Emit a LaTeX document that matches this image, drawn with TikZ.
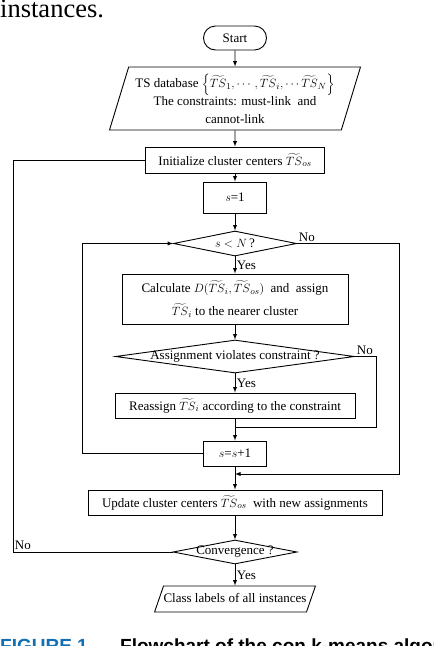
\documentclass[tikz,border=0pt]{standalone}
\usepackage{amsmath}
\usepackage{fontspec}
\setmainfont{Liberation Serif}
\newfontfamily\capfont{Liberation Sans}
\usepackage{tikz}
\usetikzlibrary{shapes,arrows}
\definecolor{figblue}{RGB}{18,112,178}

\begin{document}
\begin{tikzpicture}[x=1pt,y=-1pt,
        font=\fontsize{13}{18}\selectfont,
        thin line/.style={line width=0.9pt},
        flow/.style={line width=0.9pt,-latex},
        term/.style={draw,line width=0.9pt,rounded rectangle,inner sep=0pt},
        procbox/.style={draw,line width=0.9pt,rectangle,inner sep=0pt},
        iobox/.style={draw,line width=0.9pt,trapezium,inner sep=0pt},
        decide/.style={draw,line width=0.9pt,diamond,inner sep=0pt},
        tag/.style={inner sep=1.5pt}]
        %--- Arguments ----
        \def \cx {235} % centre line
        \def \loopR {399} % right loop (s<N ? No)
        \def \loopL {82} % left loop (s=s+1)
        \def \outL {13} % outer loop (Convergence ? No)
        \useasboundingbox (0,0) rectangle (434,646);
        %--- Page text ---
        \node [anchor=base west,inner sep=0pt,font=\fontsize{26.5}{30}\selectfont] (prev) at (0,17.5) {instances.};
        \node [anchor=base west,inner sep=0pt,font=\capfont\bfseries\fontsize{19}{22}\selectfont,text=figblue] (fig) at (0,652) {FIGURE 1};
        \node [anchor=base west,inner sep=0pt,font=\capfont\bfseries\fontsize{19}{22}\selectfont] (cap) at (120,652) {Flowchart of the con k-means algorithm.};
        %--- Boxes ---
        \node [term,minimum width=63pt,minimum height=24pt] (start) at (\cx,38) {Start};
        \node [iobox,trapezium stretches body,trapezium left angle=69,trapezium right angle=111,minimum width=251pt,minimum height=63pt,align=center] (data) at (\cx,98.5)
            {TS database $\left\{\widetilde{TS}_1,\cdots,\widetilde{TS}_i,\cdots\widetilde{TS}_N\right\}$\\ The constraints: must-link\ \ and\\ cannot-link};
        \node [procbox,minimum width=179pt,minimum height=26pt] (init) at (\cx,160) {Initialize cluster centers $\widetilde{TS}_{os}$};
        \node [procbox,minimum width=63pt,minimum height=31pt] (s1) at (\cx,197.5) {$s$=1};
        \node [decide,minimum width=123pt,minimum height=25pt,label=center:{$s<N$\,?}] (cond) at (\cx,243.5) {};
        \node [procbox,minimum width=226pt,minimum height=50pt,align=center] (calc) at (\cx,299)
            {Calculate $D(\widetilde{TS}_i,\widetilde{TS}_{os})$\ \ and\ \ assign\\[5pt] $\widetilde{TS}_i$ to the nearer cluster};
        \node [decide,minimum width=239pt,minimum height=33pt,label=center:{Assignment violates constraint ?}] (viol) at (\cx,356.5) {};
        \node [procbox,minimum width=240pt,minimum height=25pt] (reas) at (\cx,405.5) {Reassign $\widetilde{TS}_i$ according to the constraint};
        \node [procbox,minimum width=63pt,minimum height=25pt] (inc) at (\cx,453.5) {$s$=$s$+1};
        \node [procbox,minimum width=294pt,minimum height=25pt] (upd) at (\cx,502.5) {Update cluster centers $\widetilde{TS}_{os}$\ \ with new assignments};
        \node [decide,minimum width=124pt,minimum height=24pt,label=center:{Convergence ?}] (conv) at (\cx,552) {};
        \node [iobox,trapezium left angle=71,trapezium right angle=109,text height=9pt,text depth=3pt,inner ysep=7pt] (out) at (\cx,599) {Class labels of all instances};
        %--- Corners ---
        \coordinate (join) at (\cx,427);
        \coordinate (merge) at (\cx,474);
        \coordinate (violR) at (376,427);
        \coordinate (condR) at (\loopR,474);
        \coordinate (incL) at (\loopL,453.5);
        \coordinate (convL) at (\outL,552);
        %--- Lines ---
        \draw [flow] (start) -- (data);
        \draw [flow] (data) -- (init);
        \draw [flow] (init) -- (s1);
        \draw [flow] (s1) -- (cond);
        \draw [flow] (cond) -- node [tag,right] {Yes} (calc);
        \draw [flow] (calc) -- (viol);
        \draw [flow] (viol) -- node [tag,right] {Yes} (reas);
        \draw [thin line] (reas) -- (join);
        \draw [thin line] (viol.east) node [tag,above right] {No} -| (violR) -- (join);
        \draw [flow] (join) -- (inc);
        \draw [flow] (inc) -- (upd);
        \draw [flow] (cond.east) node [tag,above right] {No} -| (condR) -- (merge);
        \draw [flow] (inc.west) -- (incL) |- (cond.west);
        \draw [flow] (upd) -- (conv);
        \draw [flow] (conv) -- node [tag,right] {Yes} (out);
        \draw [thin line] (conv.west) -- (convL) node [tag,above right] {No} |- (init.west);
    \end{tikzpicture}
\end{document}
